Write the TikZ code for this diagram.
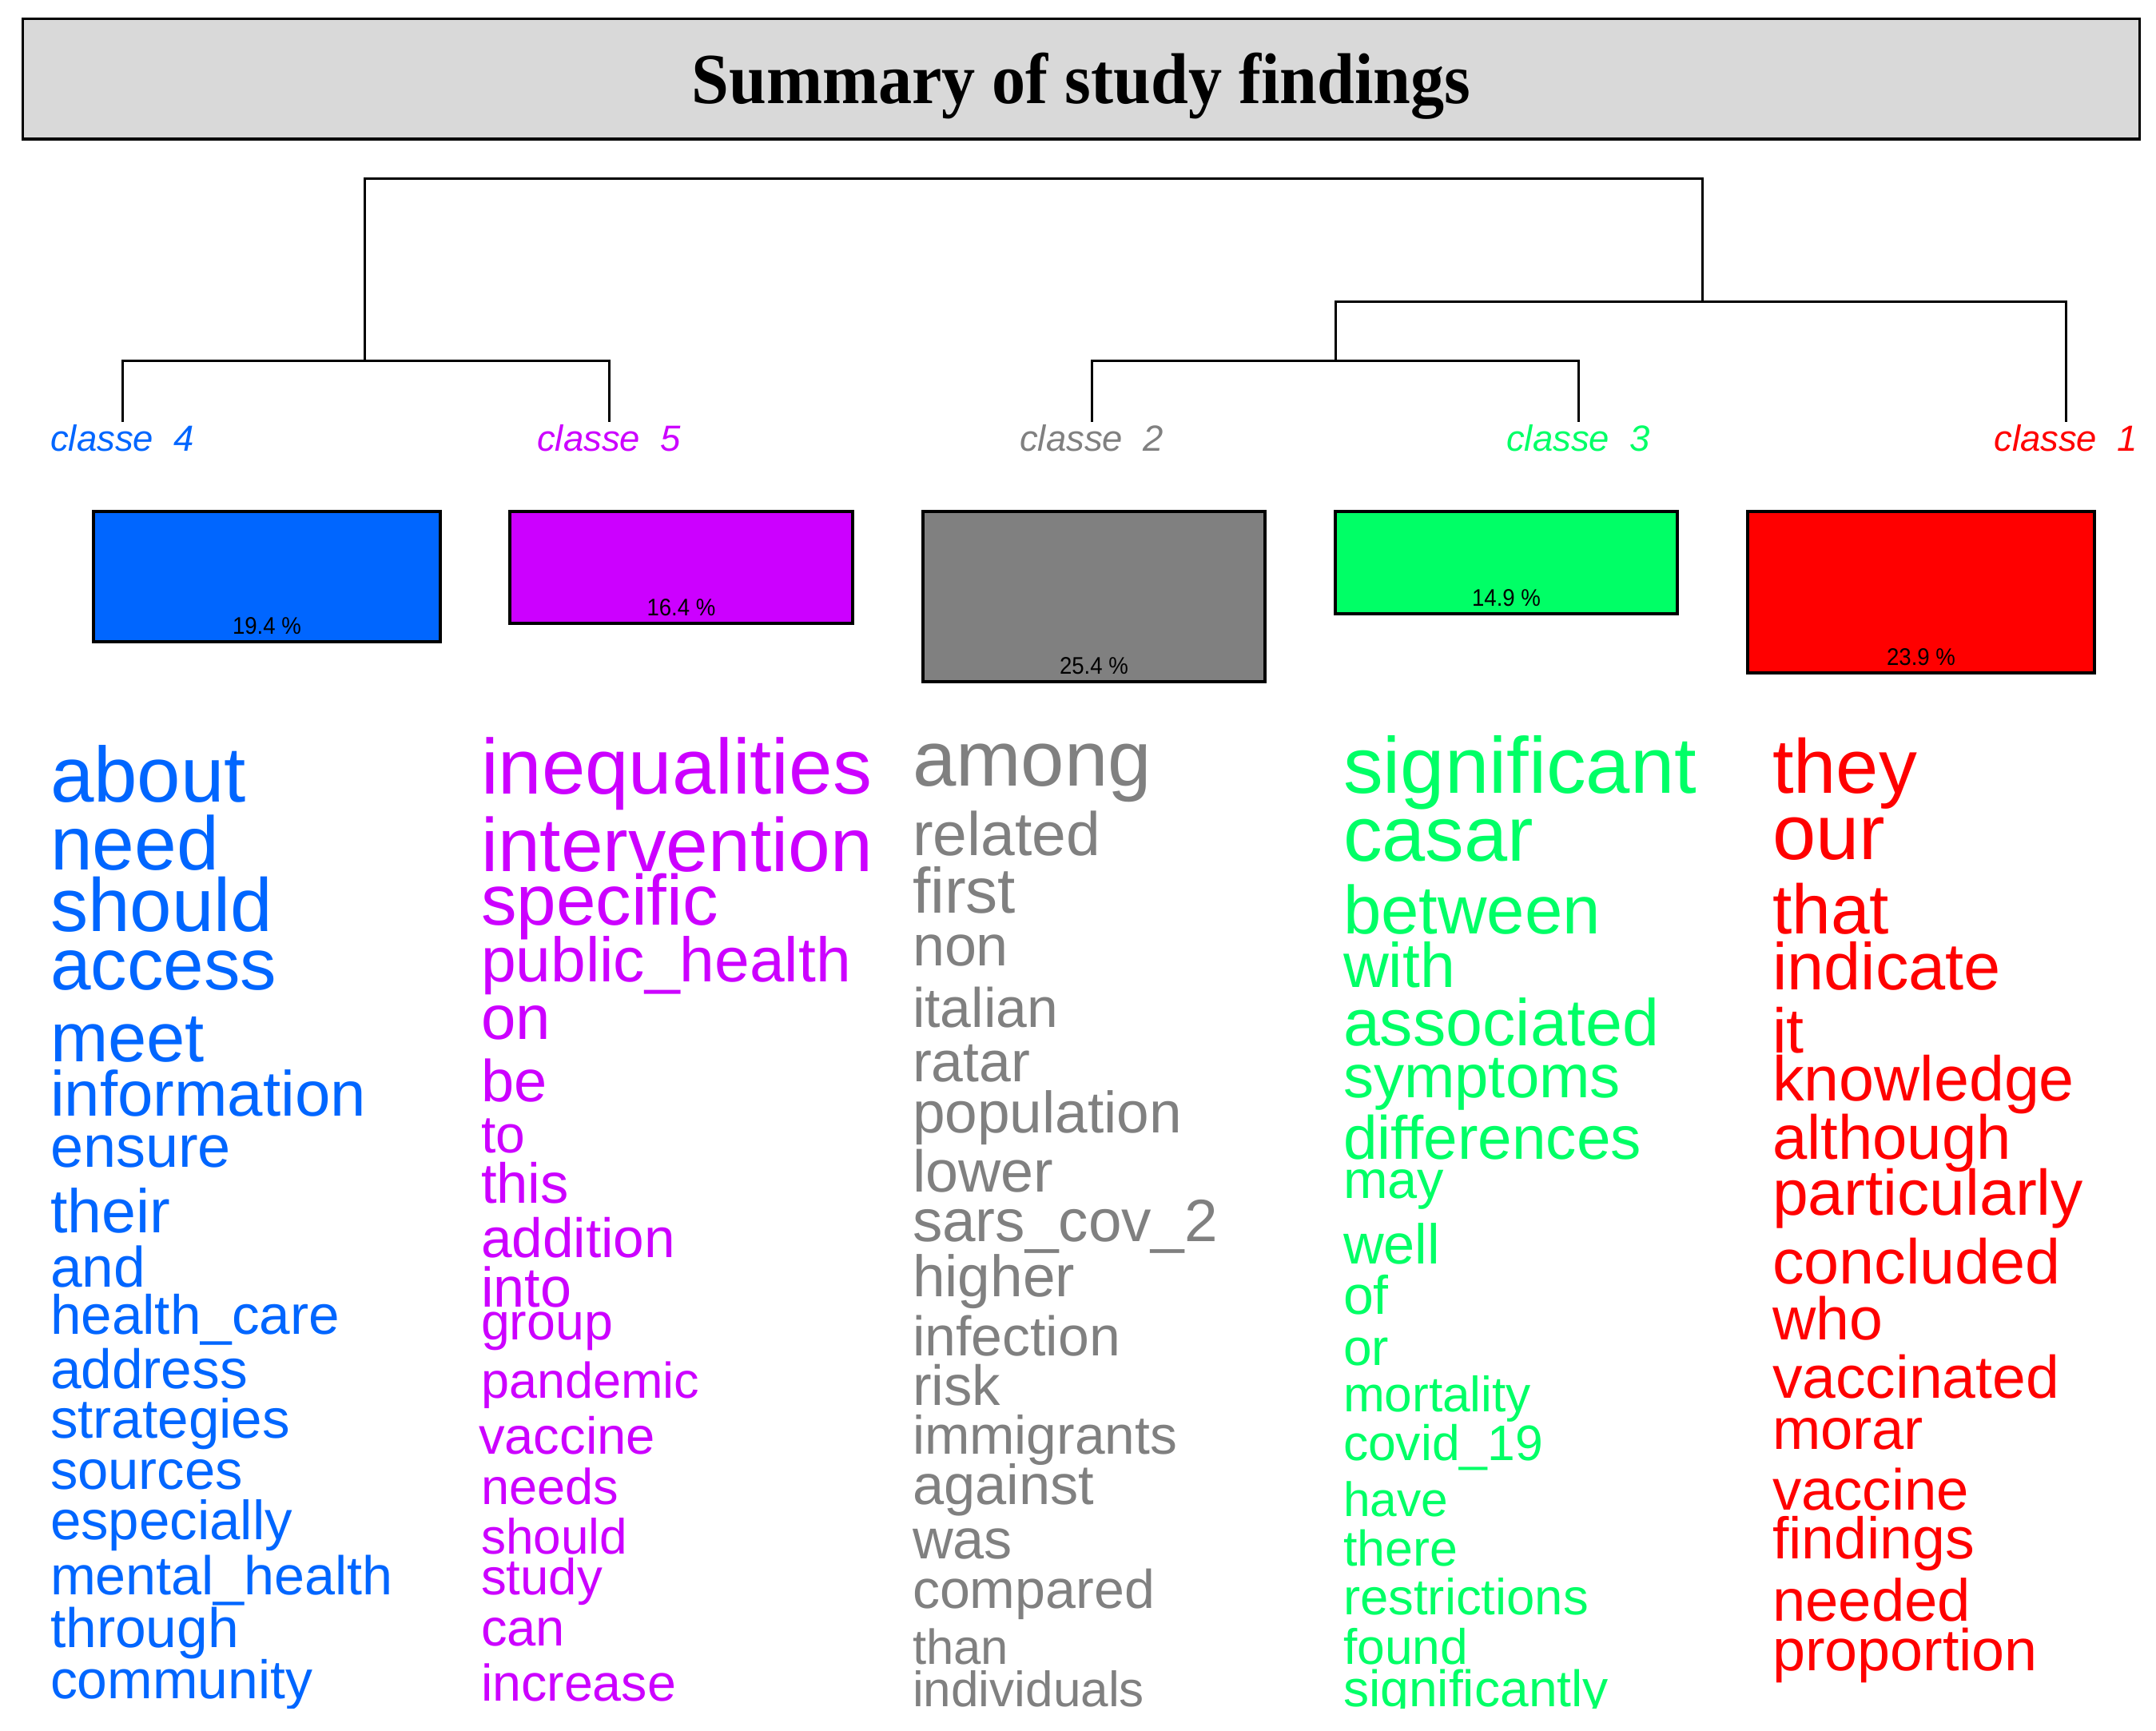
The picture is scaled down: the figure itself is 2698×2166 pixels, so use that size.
\documentclass[tikz,border=0pt]{standalone}
\usepackage{fontspec}
\usepackage{graphicx}
\setmainfont{Liberation Sans}
\newfontfamily\titlefont{Liberation Serif}
\definecolor{cBlue}{HTML}{0066FF}
\definecolor{cPurple}{HTML}{CC00FF}
\definecolor{cGray}{HTML}{808080}
\definecolor{cGreen}{HTML}{00FF66}
\definecolor{cRed}{HTML}{FF0000}
\definecolor{titlegray}{HTML}{D9D9D9}
\newcommand\fsz[1]{\fontsize{#1bp}{\fpeval{1.2*#1}bp}\selectfont}
\newcommand\rw[2]{\resizebox{#1bp}{!}{#2}}
\tikzset{
  word/.style={anchor=base west, inner sep=0pt, outer sep=0pt, font=\fsz{60}},
  clbox/.style={draw=black, line width=3.5bp, inner sep=0pt, outer sep=0pt},
  pct/.style={anchor=base, inner sep=0pt, text=black, font=\fsz{30}},
  cls/.style={anchor=base, inner sep=0pt, font=\itshape\fsz{45.5}},
  dendro/.style={draw=black, line width=3bp},
}
\begin{document}
\begin{tikzpicture}[x=1bp, y=-1bp]
\useasboundingbox[fill=white] (0,0) rectangle (2698,2166);

% title
\node[draw=black, line width=3bp, fill=titlegray, minimum width=2648bp, minimum height=150bp, inner sep=0pt] (tbox) at (1353,99) {};
\draw[line width=4bp] ([yshift=1bp]tbox.south west) -- ([yshift=1bp]tbox.south east);
\node[anchor=base, inner sep=0pt, font=\titlefont\bfseries\fsz{90}] (title) at (1353,130) {\scalebox{0.935}[1]{Summary of study findings}};

% dendrogram
\coordinate (a4) at (153,528);
\coordinate (a5) at (762,528);
\coordinate (a2) at (1366,528);
\coordinate (a3) at (1975,528);
\coordinate (a1) at (2585,528);
\coordinate (m45) at (456,451);
\coordinate (m23) at (1671,451);
\coordinate (m231) at (2130,378);
\coordinate (top) at (2130,224);
\draw[dendro] (a4) |- (a5 |- m45) -- (a5);
\draw[dendro] (a2) |- (a3 |- m23) -- (a3);
\draw[dendro] (m23) |- (a1 |- m231) -- (a1);
\draw[dendro] (m45) |- (top) -- (m231);

% class labels
\node[cls, text=cBlue] (l4) at (153,564) {classe\ \ 4};
\node[cls, text=cPurple] (l5) at (762,564) {classe\ \ 5};
\node[cls, text=cGray] (l2) at (1366,564) {classe\ \ 2};
\node[cls, text=cGreen] (l3) at (1975,564) {classe\ \ 3};
\node[cls, text=cRed] (l1) at (2585,564) {classe\ \ 1};

% boxes
\node[clbox, fill=cBlue, minimum width=434bp, minimum height=163bp] (box4) at (334,721.5) {};
\node[clbox, fill=cPurple, minimum width=429bp, minimum height=140bp] (box5) at (852.5,710) {};
\node[clbox, fill=cGray, minimum width=428bp, minimum height=213bp] (box2) at (1369,746.5) {};
\node[clbox, fill=cGreen, minimum width=428bp, minimum height=128bp] (box3) at (1885,704) {};
\node[clbox, fill=cRed, minimum width=434bp, minimum height=202bp] (box1) at (2404,741) {};
\node[pct] (p4) at ([yshift=10bp]box4.south) {\scalebox{0.92}[1]{19.4~\%}};
\node[pct] (p5) at ([yshift=10bp]box5.south) {\scalebox{0.92}[1]{16.4~\%}};
\node[pct] (p2) at ([yshift=10bp]box2.south) {\scalebox{0.92}[1]{25.4~\%}};
\node[pct] (p3) at ([yshift=10bp]box3.south) {\scalebox{0.92}[1]{14.9~\%}};
\node[pct] (p1) at ([yshift=10bp]box1.south) {\scalebox{0.92}[1]{23.9~\%}};

\begin{scope}
\clip (0,0) rectangle (2698,2137);
% blue column
\begin{scope}[every node/.append style={word, text=cBlue}]
\node (b1) at (63,1003) {\rw{245}{about}};
\node (b2) at (63,1088) {\rw{211}{need}};
\node (b3) at (63,1165) {\rw{278}{should}};
\node (b4) at (63,1238) {\rw{283}{access}};
\node (b5) at (63,1328) {\rw{193}{meet}};
\node (b6) at (63,1396) {\rw{395}{information}};
\node (b7) at (63,1460) {\rw{226}{ensure}};
\node (b8) at (63,1542) {\rw{150}{their}};
\node (b9) at (63,1610) {\rw{119}{and}};
\node (b10) at (63,1669) {\rw{362}{health\_care}};
\node (b11) at (63,1737) {\rw{247}{address}};
\node (b12) at (63,1799) {\rw{300}{strategies}};
\node (b13) at (63,1863) {\rw{241}{sources}};
\node (b14) at (63,1926) {\rw{303}{especially}};
\node (b15) at (63,1995) {\rw{429}{mental\_health}};
\node (b16) at (63,2061) {\rw{236}{through}};
\node (b17) at (63,2125) {\rw{328}{community}};
\end{scope}
% purple column
\begin{scope}[every node/.append style={word, text=cPurple}]
\node (v1) at (602,993) {\rw{489}{inequalities}};
\node (v2) at (602,1090) {\rw{490}{intervention}};
\node (v3) at (602,1157) {\rw{297}{specific}};
\node (v4) at (602,1228) {\rw{463}{public\_health}};
\node[font=\fsz{78}] (v5) at (602,1300) {on};
\node[font=\fsz{74}] (v6) at (602,1378) {be};
\node[font=\fsz{66}] (v7) at (602,1442) {to};
\node (v8) at (602,1505) {\rw{110}{this}};
\node (v9) at (602,1573) {\rw{243}{addition}};
\node (v10) at (602,1635) {\rw{113}{into}};
\node (v11) at (602,1676) {\rw{165}{group}};
\node (v12) at (602,1749) {\rw{273}{pandemic}};
\node (v13) at (599,1819) {\rw{221}{vaccine}};
\node (v14) at (602,1882) {\rw{172}{needs}};
\node (v15) at (602,1944) {\rw{183}{should}};
\node (v16) at (602,1995) {\rw{152}{study}};
\node (v17) at (602,2059) {\rw{105}{can}};
\node (v18) at (602,2128) {\rw{244}{increase}};
\end{scope}
% gray column
\begin{scope}[every node/.append style={word, text=cGray}]
\node (g1) at (1142,983) {\rw{299}{among}};
\node (g2) at (1142,1070) {\rw{235}{related}};
\node (g3) at (1142,1142) {\rw{129}{first}};
\node (g4) at (1142,1208) {\rw{120}{non}};
\node (g5) at (1142,1285) {\rw{182}{italian}};
\node (g6) at (1142,1353) {\rw{147}{ratar}};
\node (g7) at (1142,1417) {\rw{337}{population}};
\node (g8) at (1142,1491) {\rw{176}{lower}};
\node (g9) at (1142,1553) {\rw{382}{sars\_cov\_2}};
\node (g10) at (1142,1622) {\rw{203}{higher}};
\node (g11) at (1142,1696) {\rw{260}{infection}};
\node (g12) at (1142,1758) {\rw{110}{risk}};
\node (g13) at (1142,1819) {\rw{331}{immigrants}};
\node (g14) at (1142,1882) {\rw{227}{against}};
\node (g15) at (1142,1950) {\rw{125}{was}};
\node (g16) at (1142,2012) {\rw{303}{compared}};
\node (g17) at (1142,2082) {\rw{120}{than}};
\node (g18) at (1142,2135) {\rw{290}{individuals}};
\end{scope}
% green column
\begin{scope}[every node/.append style={word, text=cGreen}]
\node (e1) at (1681,992) {\rw{442}{significant}};
\node (e2) at (1681,1077) {\rw{238}{casar}};
\node (e3) at (1681,1168) {\rw{322}{between}};
\node (e4) at (1681,1235) {\rw{140}{with}};
\node (e5) at (1681,1308) {\rw{395}{associated}};
\node (e6) at (1681,1373) {\rw{347}{symptoms}};
\node (e7) at (1681,1450) {\rw{373}{differences}};
\node (e8) at (1681,1499) {\rw{126}{may}};
\node (e9) at (1681,1581) {\rw{121}{well}};
\node[font=\fsz{68}] (e10) at (1681,1644) {of};
\node[font=\fsz{64}] (e11) at (1681,1708) {or};
\node (e12) at (1681,1766) {\rw{235}{mortality}};
\node (e13) at (1681,1827) {\rw{250}{covid\_19}};
\node (e14) at (1681,1897) {\rw{131}{have}};
\node (e15) at (1681,1959) {\rw{143}{there}};
\node (e16) at (1681,2020) {\rw{307}{restrictions}};
\node (e17) at (1681,2082) {\rw{156}{found}};
\node (e18) at (1681,2135) {\rw{332}{significantly}};
\end{scope}
% red column
\begin{scope}[every node/.append style={word, text=cRed}]
\node (r1) at (2218,992) {\rw{181}{they}};
\node (r2) at (2218,1075) {\rw{141}{our}};
\node (r3) at (2218,1168) {\rw{146}{that}};
\node (r4) at (2218,1238) {\rw{286}{indicate}};
\node[font=\fsz{79}] (r5) at (2218,1317) {it};
\node (r6) at (2218,1377) {\rw{378}{knowledge}};
\node (r7) at (2218,1450) {\rw{299}{although}};
\node (r8) at (2218,1520) {\rw{389}{particularly}};
\node (r9) at (2218,1606) {\rw{361}{concluded}};
\node (r10) at (2218,1676) {\rw{138}{who}};
\node (r11) at (2218,1749) {\rw{359}{vaccinated}};
\node (r12) at (2218,1813) {\rw{189}{morar}};
\node (r13) at (2218,1889) {\rw{246}{vaccine}};
\node (r14) at (2218,1950) {\rw{253}{findings}};
\node (r15) at (2218,2028) {\rw{248}{needed}};
\node (r16) at (2218,2090) {\rw{332}{proportion}};
\end{scope}
\end{scope}
\end{tikzpicture}
\end{document}
